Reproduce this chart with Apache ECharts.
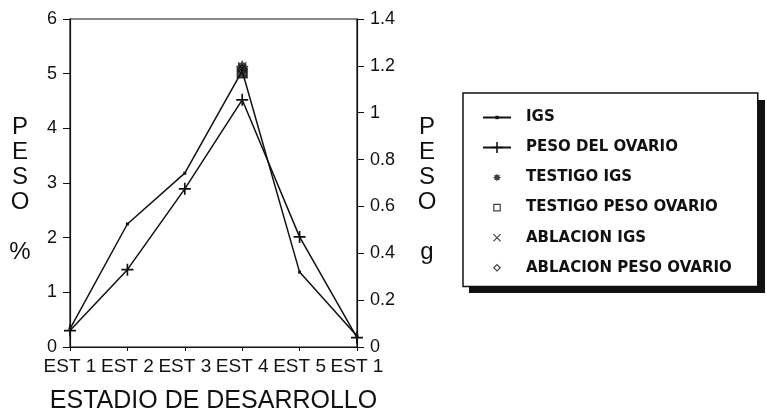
<!DOCTYPE html>
<html>
<head>
<meta charset="utf-8">
<script src="https://cdn.jsdelivr.net/npm/echarts@6/dist/echarts.min.js"></script>
<style>
  html, body { margin: 0; background: #fff; }
  #chart { width: 766px; height: 412px; }
</style>
</head>
<body>
<div id="chart"></div>
<script>
// data
var categories = ['EST 1', 'EST 2', 'EST 3', 'EST 4', 'EST 5', 'EST 1']
var igs = [0.33, 2.25, 3.18, 5.05, 1.37, 0.2]            // % (left axis)
var pesoOvario = [0.07, 0.33, 0.675, 1.055, 0.47, 0.04]   // g (right axis)
var testigoIgs = [null, null, null, 5.13, null, null]
var testigoPeso = [null, null, null, 1.17, null, null]
var ablacionIgs = [null, null, null, 5.1, null, null]
var ablacionPeso = [null, null, null, 1.185, null, null]
var leftScale = [0, 6, 1]      // min, max, interval
var rightScale = [0, 1.4, 0.2]

var ink = '#111'

// glyphs drawn in a 10x10 box
function starGlyph() {
  var s = ''
  for (var k = 0; k < 16; k++) {
    var a = k * Math.PI / 8 - Math.PI / 2
    var r = k % 2 === 0 ? 5 : 3
    s += (k === 0 ? 'M' : 'L') + (5 + r * Math.cos(a)).toFixed(2) + ',' + (5 + r * Math.sin(a)).toFixed(2)
  }
  return s + 'Z'
}
var glyphs = {
  dot: 'M0,0M10,10M3.5,3.5h3v3h-3z',
  plus: 'M4.3,0h1.4v10h-1.4zM0,4.3h10v1.4h-10z',
  star: starGlyph(),
  square: 'M1,1h8v8h-8z',
  cross: 'M1,0L10,9L9,10L0,1ZM9,0L10,1L1,10L0,9Z',
  diamond: 'M5,1L9,5L5,9L1,5Z'
}
function sym(g) { return 'path://' + glyphs[g] }
// same glyph with a wider invisible box so it sits small in the legend
function legIcon(g) { return 'path://M-12.5,-3.75M22.5,13.75' + glyphs[g] }

// stacked upright letters, with a small spacer line on top
function stacked(unit) {
  return '{s| }\n{t|P}\n{t|E}\n{t|S}\n{t|O}\n{t| }\n{t|' + unit + '}'
}
var stackedRich = {
  s: { fontSize: 10, lineHeight: 14 },
  t: { fontSize: 24, lineHeight: 25, color: ink, fontFamily: 'Liberation Sans' }
}

var chart = echarts.init(document.getElementById('chart'))
chart.setOption({
  animation: false,
  textStyle: { fontFamily: 'Liberation Sans', color: ink },
  grid: {
    left: 70, right: 409, top: 19, bottom: 65,
    outerBoundsMode: 'none',
    show: true, borderColor: ink, borderWidth: 1.2
  },
  // drop shadow behind the legend box
  graphic: [
    { type: 'rect', z: 1, shape: { x: 469, y: 100, width: 296, height: 193 }, style: { fill: ink } }
  ],
  legend: {
    z: 10,
    left: 463,
    top: 93,
    orient: 'vertical',
    itemWidth: 28,
    itemHeight: 14,
    itemGap: 15,
    padding: [17, 26, 11, 19],
    backgroundColor: '#fff',
    borderColor: ink,
    borderWidth: 1.5,
    textStyle: { fontFamily: 'DejaVu Sans', fontWeight: 'bold', fontSize: 15, color: ink, padding: [0, 0, 0, 10] },
    data: [
      { name: 'IGS' },
      { name: 'PESO DEL OVARIO' },
      { name: 'TESTIGO IGS', icon: legIcon('star') },
      { name: 'TESTIGO PESO OVARIO', icon: legIcon('square'), itemStyle: { color: '#fff', borderWidth: 1.2 } },
      { name: 'ABLACION IGS', icon: legIcon('cross') },
      { name: 'ABLACION PESO OVARIO', icon: legIcon('diamond'), itemStyle: { borderWidth: 1.2 } }
    ]
  },
  xAxis: {
    type: 'category',
    data: categories,
    boundaryGap: false,
    axisLine: { lineStyle: { color: ink, width: 1.2 } },
    axisTick: { length: 4, lineStyle: { color: ink } },
    axisLabel: { interval: 0, fontSize: 19, margin: 10, color: ink },
    name: 'ESTADIO DE DESARROLLO',
    nameLocation: 'middle',
    nameGap: 42,
    nameTextStyle: { fontSize: 25, color: ink }
  },
  yAxis: [
    {
      type: 'value',
      min: leftScale[0],
      max: leftScale[1],
      interval: leftScale[2],
      splitLine: { show: false },
      axisLine: { show: true, lineStyle: { color: ink, width: 1.2 } },
      axisTick: { show: true, length: 7, lineStyle: { color: ink } },
      axisLabel: { fontSize: 18, margin: 13, color: ink },
      name: stacked('%'),
      nameLocation: 'middle',
      nameRotate: 0,
      nameGap: 50,
      nameTextStyle: { align: 'center', rich: stackedRich }
    },
    {
      type: 'value',
      min: rightScale[0],
      max: rightScale[1],
      interval: rightScale[2],
      splitLine: { show: false },
      axisLine: { show: true, lineStyle: { color: ink, width: 1.2 } },
      axisTick: { show: true, length: 7, lineStyle: { color: ink } },
      axisLabel: { fontSize: 18, margin: 13, color: ink },
      name: stacked('g'),
      nameLocation: 'middle',
      nameRotate: 0,
      nameGap: 70,
      nameTextStyle: { align: 'center', rich: stackedRich }
    }
  ],
  series: [
    {
      name: 'IGS',
      type: 'line',
      yAxisIndex: 0,
      data: igs,
      symbol: sym('dot'),
      symbolSize: 10,
      lineStyle: { color: ink, width: 1.5 },
      itemStyle: { color: ink }
    },
    {
      name: 'PESO DEL OVARIO',
      type: 'line',
      yAxisIndex: 1,
      data: pesoOvario,
      symbol: sym('plus'),
      symbolSize: 12,
      lineStyle: { color: ink, width: 1.5 },
      itemStyle: { color: ink }
    },
    {
      name: 'TESTIGO PESO OVARIO',
      type: 'scatter',
      yAxisIndex: 1,
      data: testigoPeso,
      symbol: sym('square'),
      symbolSize: 10,
      itemStyle: { color: ink, borderColor: ink, borderWidth: 1.2 }
    },
    {
      name: 'ABLACION PESO OVARIO',
      type: 'scatter',
      yAxisIndex: 1,
      data: ablacionPeso,
      symbol: sym('diamond'),
      symbolSize: 9,
      itemStyle: { color: '#fff', borderColor: ink, borderWidth: 1.2 }
    },
    {
      name: 'TESTIGO IGS',
      type: 'scatter',
      yAxisIndex: 0,
      data: testigoIgs,
      symbol: sym('star'),
      symbolSize: 13,
      itemStyle: { color: ink }
    },
    {
      name: 'ABLACION IGS',
      type: 'scatter',
      yAxisIndex: 0,
      data: ablacionIgs,
      symbol: sym('cross'),
      symbolSize: 9,
      itemStyle: { color: ink }
    }
  ]
})
</script>
</body>
</html>
